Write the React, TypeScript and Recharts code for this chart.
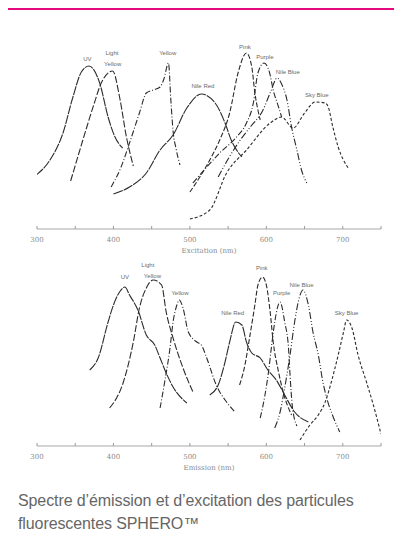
// App.tsx
import {
  LineChart,
  Line,
  XAxis,
  YAxis,
  ReferenceDot,
} from "recharts";

// wavelength ticks (nm)
const wavelengthTicks = [300, 350, 400, 450, 500, 550, 600, 650, 700, 750];

// --- excitation spectra (nm / relative intensity) ---
const exUvNm = [299, 317, 334, 347, 358, 368, 382, 393, 402, 412];
const exUvVal = [54, 69, 96, 132, 157, 163, 146, 112, 92, 81];
const exLightYellowNm = [344, 360, 375, 384, 399, 408, 417, 426];
const exLightYellowVal = [48, 89, 126, 146, 158, 132, 92, 63];
const exYellowNm = [397, 410, 421, 434, 443, 452, 461, 466, 472, 475, 478, 482, 487];
const exYellowVal = [42, 62, 86, 116, 136, 139, 142, 150, 166, 130, 98, 80, 64];
const exNileRedNm = [400, 421, 443, 461, 478, 496, 515, 533, 546, 554, 568];
const exNileRedVal = [35, 42, 56, 79, 94, 121, 135, 126, 106, 89, 72];
const exPinkNm = [500, 513, 526, 539, 552, 563, 574, 581, 585, 589, 592];
const exPinkVal = [37, 52, 69, 89, 116, 156, 176, 162, 136, 119, 109];
const exPurpleNm = [504, 522, 539, 561, 574, 583, 589, 597, 604, 609, 616, 620];
const exPurpleVal = [46, 62, 76, 92, 106, 126, 156, 166, 157, 139, 122, 112];
const exNileBlueNm = [537, 550, 565, 580, 595, 606, 614, 620, 627, 633, 640, 646, 653];
const exNileBlueVal = [52, 70, 88, 103, 118, 138, 151, 145, 129, 102, 79, 59, 46];
const exSkyBlueNm = [500, 526, 548, 574, 605, 620, 635, 650, 664, 677, 681, 687, 694, 707];
const exSkyBlueVal = [10, 19, 56, 79, 106, 112, 101, 116, 127, 126, 122, 102, 82, 61];

// --- emission spectra ---
const emUvNm = [369, 380, 393, 400, 408, 415, 421, 432, 443, 454, 461, 469, 478, 496];
const emUvVal = [76, 88, 124, 141, 154, 159, 151, 136, 111, 101, 88, 73, 59, 43];
const emLightYellowNm = [395, 413, 426, 434, 443, 452, 463, 469, 478, 491, 504];
const emLightYellowVal = [38, 64, 104, 138, 158, 166, 161, 134, 108, 78, 54];
const emYellowNm = [461, 467, 474, 478, 483, 486, 491, 498, 509, 515, 522, 535, 548, 559];
const emYellowVal = [38, 64, 98, 124, 141, 146, 138, 114, 104, 101, 88, 60, 44, 34];
const emNileRedNm = [526, 537, 546, 552, 560, 568, 574, 581, 592, 602, 613, 624, 637, 655];
const emNileRedVal = [51, 61, 84, 104, 124, 121, 104, 93, 88, 76, 66, 51, 34, 24];
const emPinkNm = [565, 572, 578, 585, 589, 595, 600, 605, 609, 616, 622, 633];
const emPinkVal = [61, 81, 108, 141, 161, 169, 161, 134, 104, 74, 54, 31];
const emPurpleNm = [592, 598, 603, 607, 611, 618, 624, 629, 631, 634, 640];
const emPurpleVal = [28, 50, 75, 101, 124, 144, 124, 98, 71, 40, 20];
const emNileBlueNm = [611, 618, 624, 631, 637, 643, 648, 655, 661, 668, 674, 679, 688, 696];
const emNileBlueVal = [18, 34, 58, 91, 124, 148, 156, 141, 114, 91, 64, 48, 28, 14];
const emSkyBlueNm = [644, 657, 668, 677, 685, 694, 701, 705, 712, 720, 731, 740, 750];
const emSkyBlueVal = [6, 21, 31, 44, 64, 91, 114, 126, 118, 91, 64, 41, 12];

// curve labels: text, nm, intensity
const exLabelText = ["UV", "Light", "Yellow", "Yellow", "Nile Red", "Pink", "Purple", "Nile Blue", "Sky Blue"];
const exLabelNm = [366, 398, 399, 471, 517, 572, 598, 628, 666];
const exLabelVal = [170, 176, 165, 176, 143, 182, 172, 157, 134];
const emLabelText = ["UV", "Light", "Yellow", "Yellow", "Nile Red", "Pink", "Purple", "Nile Blue", "Sky Blue"];
const emLabelNm = [415, 445, 451, 487, 556, 594, 620, 646, 705];
const emLabelVal = [169, 181, 170, 153, 133, 178, 153, 161, 133];

const dashes = {
  uv: "9 1",
  lightYellow: "7 2",
  yellow: "6 2 1 2",
  nileRed: "10 1",
  pink: "5 2",
  purple: "6 2 1 2",
  nileBlue: "7 2 1 2 1 2",
  skyBlue: "3 2",
};

const toPoints = (nm: number[], val: number[]) =>
  nm.map((x, i) => ({ nm: x, v: val[i] }));

const excitation = [
  { key: "uv", data: toPoints(exUvNm, exUvVal) },
  { key: "lightYellow", data: toPoints(exLightYellowNm, exLightYellowVal) },
  { key: "yellow", data: toPoints(exYellowNm, exYellowVal) },
  { key: "nileRed", data: toPoints(exNileRedNm, exNileRedVal) },
  { key: "pink", data: toPoints(exPinkNm, exPinkVal) },
  { key: "purple", data: toPoints(exPurpleNm, exPurpleVal) },
  { key: "nileBlue", data: toPoints(exNileBlueNm, exNileBlueVal) },
  { key: "skyBlue", data: toPoints(exSkyBlueNm, exSkyBlueVal) },
];

const emission = [
  { key: "uv", data: toPoints(emUvNm, emUvVal) },
  { key: "lightYellow", data: toPoints(emLightYellowNm, emLightYellowVal) },
  { key: "yellow", data: toPoints(emYellowNm, emYellowVal) },
  { key: "nileRed", data: toPoints(emNileRedNm, emNileRedVal) },
  { key: "pink", data: toPoints(emPinkNm, emPinkVal) },
  { key: "purple", data: toPoints(emPurpleNm, emPurpleVal) },
  { key: "nileBlue", data: toPoints(emNileBlueNm, emNileBlueVal) },
  { key: "skyBlue", data: toPoints(emSkyBlueNm, emSkyBlueVal) },
];

const PINK = "#e5097f";
const LABEL_FONT = "'Liberation Sans', Arial, sans-serif";

const AxisTick = (props: any) => {
  const { x, y, payload } = props;
  const v = payload.value;
  return (
    <g>
      <line x1={x} y1={y - 3} x2={x} y2={y} stroke="#9a9a9a" strokeWidth={1} />
      {v % 100 === 0 && v < 750 && (
        <text
          x={x}
          y={y + 13}
          textAnchor="middle"
          fontSize={7}
          fill="#8a8a8a"
          fontFamily="'DejaVu Serif', serif"
        >
          {v}
        </text>
      )}
    </g>
  );
};

function Spectrum({
  series,
  labels,
  axisTitle,
}: {
  series: { key: string; data: { nm: number; v: number }[] }[];
  labels: { text: string[]; nm: number[]; val: number[] };
  axisTitle: string;
}) {
  return (
    <LineChart
      width={402}
      height={225}
      margin={{ top: 14, right: 21, bottom: 0, left: 37 }}
    >
      <XAxis
        type="number"
        dataKey="nm"
        domain={[300, 750]}
        ticks={wavelengthTicks}
        allowDataOverflow
        stroke="#a8a8a8"
        tickSize={0}
        tickMargin={0}
        tick={<AxisTick />}
        height={31}
        label={{
          value: axisTitle,
          position: "insideBottom",
          offset: 7,
          fontSize: 7,
          fill: "#8a8a8a",
          fontFamily: "'DejaVu Serif', serif",
        }}
      />
      <YAxis hide domain={[0, 180]} allowDataOverflow />
      {series.map((s) => (
        <Line
          key={s.key}
          data={s.data}
          dataKey="v"
          type="monotone"
          stroke="#2b2b2b"
          strokeWidth={1.1}
          strokeDasharray={(dashes as any)[s.key]}
          dot={false}
          isAnimationActive={false}
        />
      ))}
      {labels.text.map((t, i) => (
        <ReferenceDot
          key={`${t}-${i}`}
          x={labels.nm[i]}
          y={labels.val[i]}
          r={0}
          stroke="none"
          fill="none"
          ifOverflow="visible"
          label={{
            value: t,
            position: "center",
            fontSize: 6,
            fill: "#6a6a6a",
            fontFamily: LABEL_FONT,
          }}
        />
      ))}
    </LineChart>
  );
}

export default function App() {
  return (
    <div
      style={{
        position: "relative",
        width: 402,
        height: 544,
        background: "#fff",
        overflow: "hidden",
        margin: -8,
      }}
    >
      <div
        style={{
          position: "absolute",
          left: 0,
          top: 0,
          width: 402,
          height: 8,
          background: "#f6f6f6",
        }}
      />
      <div
        style={{
          position: "absolute",
          left: 6,
          top: 8,
          width: 402,
          height: 540,
          borderTop: `2px solid ${PINK}`,
          borderLeft: `2px solid ${PINK}`,
          background: "#fff",
        }}
      />
      <div style={{ position: "absolute", left: 0, top: 35 }}>
        <Spectrum
          series={excitation}
          labels={{ text: exLabelText, nm: exLabelNm, val: exLabelVal }}
          axisTitle="Excitation (nm)"
        />
      </div>
      <div style={{ position: "absolute", left: 0, top: 252 }}>
        <Spectrum
          series={emission}
          labels={{ text: emLabelText, nm: emLabelNm, val: emLabelVal }}
          axisTitle="Emission (nm)"
        />
      </div>
      <div
        style={{
          position: "absolute",
          left: 18,
          top: 489,
          fontFamily: "'Liberation Sans', Arial, sans-serif",
          fontSize: 16,
          lineHeight: "23px",
          color: "#666",
          letterSpacing: -0.1,
        }}
      >
        Spectre d’émission et d’excitation des particules
        <br />
        fluorescentes SPHERO™
      </div>
    </div>
  );
}
